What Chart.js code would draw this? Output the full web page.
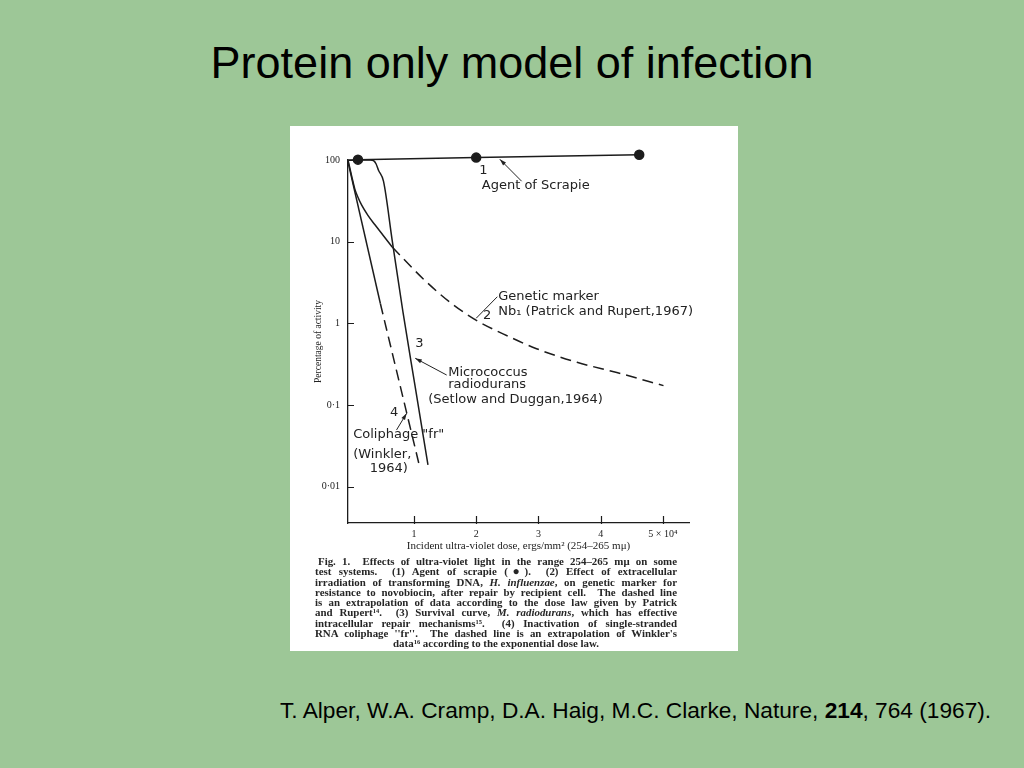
<!DOCTYPE html>
<html>
<head>
<meta charset="utf-8">
<title>Protein only model of infection</title>
<script src="https://cdn.jsdelivr.net/npm/chart.js@4.4.1/dist/chart.umd.min.js"></script>
<style>
  html, body { margin: 0; padding: 0; }
  body { width: 1024px; height: 768px; background: #9dc797; position: relative; overflow: hidden; }
  h1 { position: absolute; left: 0; top: 40px; width: 1024px; margin: 0; text-align: center;
       font: 400 45px/45px "Liberation Sans", Arial, sans-serif; color: #000; }
  #sheet { position: absolute; left: 290px; top: 126px; width: 448px; height: 525px; background: #fff; }
  #chart { position: absolute; left: 0; top: 0; }
  #caption { position: absolute; left: 25px; top: 430px; width: 362px;
             font: 700 10.9px/10.25px "Liberation Serif", "Times New Roman", serif; color: #262626; }
  #caption div { text-align: justify; text-align-last: justify; white-space: normal; }
  #caption div.last { text-align: center; text-align-last: center; }
  #caption sup { font-size: 6.5px; line-height: 0; vertical-align: 3px; }
  #caption .dot { font-size: 12px; line-height: 0; }
  .cite { position: absolute; left: 280px; top: 699px; margin: 0; white-space: nowrap;
          font: 22.7px/22.7px "Liberation Sans", Arial, sans-serif; color: #000; }
</style>
</head>
<body>
<h1>Protein only model of infection</h1>

<div id="sheet">
  <canvas id="chart" width="448" height="430"></canvas>
  <div id="caption">
    <div style="padding-left:3px">Fig. 1.&nbsp; Effects of ultra-violet light in the range 254–265 mμ on some</div>
    <div>test systems.&nbsp; (1) Agent of scrapie (<span class="dot">●</span>).&nbsp; (2) Effect of extracellular</div>
    <div>irradiation of transforming DNA, <i>H. influenzae</i>, on genetic marker for</div>
    <div>resistance to novobiocin, after repair by recipient cell.&nbsp; The dashed line</div>
    <div>is an extrapolation of data according to the dose law given by Patrick</div>
    <div>and Rupert<sup>14</sup>.&nbsp; (3) Survival curve, <i>M. radiodurans</i>, which has effective</div>
    <div>intracellular repair mechanisms<sup>15</sup>.&nbsp; (4) Inactivation of single-stranded</div>
    <div>RNA coliphage ''fr''.&nbsp; The dashed line is an extrapolation of Winkler's</div>
    <div class="last">data<sup>16</sup> according to the exponential dose law.</div>
  </div>
</div>

<p class="cite">T. Alper, W.A. Cramp, D.A. Haig, M.C. Clarke, Nature, <b>214</b>, 764 (1967).</p>

<script>
// Fig. 1 of Alper et al. (1967).
// x = UV dose in units of 10^4 ergs/mm^2, y = percentage of activity (log).

const X_TICKS = [1, 2, 3, 4, 5];
const X_TICK_LABELS = ['1', '2', '3', '4', '5 × 10⁴'];
const Y_TICKS = [100, 10, 1, 0.1, 0.01];
const Y_TICK_LABELS = ['100', '10', '1', '0·1', '0·01'];

// (1) agent of scrapie; first entry is where the line leaves the axis
const scrapieDose = [-0.06, 0.10, 2.00, 4.62];
const scrapiePct  = [100, 101, 107, 116];

// (2) genetic marker Nb1: measured part, then the dashed extrapolation
const markerDose    = [-0.06, 0.0, 0.05, 0.10, 0.16, 0.26, 0.37, 0.50, 0.65];
const markerPct     = [100, 63, 44, 35, 28, 21, 16.2, 12.1, 8.6];
const markerExtDose = [0.65, 1.15, 1.58, 2.01, 2.44, 2.97, 3.62, 4.26, 5.01];
const markerExtPct  = [8.6, 3.5, 1.81, 1.08, 0.74, 0.49, 0.334, 0.25, 0.173];

// (3) Micrococcus radiodurans
const microDose = [-0.06, 0.30, 0.35, 0.39, 0.43, 0.51, 0.65, 0.823, 1.02, 1.225];
const microPct  = [100, 100, 98, 90, 75, 55, 10.4, 1.38, 0.167, 0.0185];

// (4) coliphage "fr": measured part, then dashed extrapolation
const phageDose    = [-0.06, 0.46];
const phagePct     = [95, 1.75];
const phageExtDose = [0.46, 1.096];
const phageExtPct  = [1.75, 0.017];

// hand lettering on the figure, placed in data units
const NOTES = [
  { text: '1',                              x: 2.05,  y: 75 },
  { text: 'Agent of Scrapie',               x: 2.09,  y: 49 },
  { text: 'Genetic marker',                 x: 2.355, y: 2.12 },
  { text: '2',                              x: 2.11,  y: 1.24 },
  { text: 'Nb₁ (Patrick and Rupert,1967)',  x: 2.355, y: 1.40 },
  { text: '3',                              x: 1.02,  y: 0.56 },
  { text: 'Micrococcus',                    x: 1.55,  y: 0.25 },
  { text: 'radiodurans',                    x: 1.55,  y: 0.176 },
  { text: '(Setlow and Duggan,1964)',       x: 1.23,  y: 0.115 },
  { text: '4',                              x: 0.615, y: 0.08 },
  { text: 'Coliphage "fr"',                 x: 0.024, y: 0.043 },
  { text: '(Winkler,',                      x: 0.024, y: 0.025 },
  { text: '1964)',                          x: 0.29,  y: 0.0168 },
];
const POINTERS = [
  { from: [2.73, 55],     to: [2.38, 102],    head: true },
  { from: [2.00, 1.155],  to: [2.34, 2.12],   head: false },
  { from: [1.526, 0.233], to: [1.02, 0.374],  head: true },
  { from: [0.72, 0.0496], to: [0.883, 0.0794], head: true },
];

const INK = '#1c1c1c';
const SERIF = '"Liberation Serif", "Times New Roman", serif';
const HAND = '"DejaVu Sans", sans-serif';
const DASH = [11, 6];

const pts = (xs, ys) => xs.map((x, i) => ({ x, y: ys[i] }));

function curve(label, xs, ys, extra) {
  return Object.assign({
    label,
    data: pts(xs, ys),
    borderColor: INK,
    backgroundColor: INK,
    borderWidth: 1.5,
    pointRadius: 0,
    fill: false,
    cubicInterpolationMode: 'monotone',
  }, extra);
}

// tick marks on this figure point into the plot
const inwardTicks = {
  id: 'inwardTicks',
  afterDraw(chart) {
    const { ctx, chartArea: a, scales: { x, y } } = chart;
    ctx.save();
    ctx.strokeStyle = INK;
    ctx.lineWidth = 1.2;
    ctx.beginPath();
    for (const v of X_TICKS) {
      const px = Math.round(x.getPixelForValue(v)) + 0.5;
      ctx.moveTo(px, a.bottom + 1);
      ctx.lineTo(px, a.bottom - 7);
    }
    for (const v of Y_TICKS) {
      const py = Math.round(y.getPixelForValue(v)) + 0.5;
      ctx.moveTo(a.left, py);
      ctx.lineTo(a.left + 6, py);
    }
    ctx.stroke();
    ctx.restore();
  },
};

const lettering = {
  id: 'lettering',
  afterDraw(chart) {
    const { ctx, scales: { x, y } } = chart;
    ctx.save();
    ctx.fillStyle = '#222';
    ctx.strokeStyle = '#222';
    ctx.font = '13px ' + HAND;
    ctx.textAlign = 'left';
    ctx.textBaseline = 'middle';
    for (const n of NOTES) {
      ctx.fillText(n.text, x.getPixelForValue(n.x), y.getPixelForValue(n.y));
    }
    ctx.lineWidth = 1;
    for (const p of POINTERS) {
      const x0 = x.getPixelForValue(p.from[0]), y0 = y.getPixelForValue(p.from[1]);
      const x1 = x.getPixelForValue(p.to[0]),   y1 = y.getPixelForValue(p.to[1]);
      ctx.beginPath();
      ctx.moveTo(x0, y0);
      ctx.lineTo(x1, y1);
      ctx.stroke();
      if (p.head) {
        const ang = Math.atan2(y1 - y0, x1 - x0);
        ctx.beginPath();
        ctx.moveTo(x1, y1);
        ctx.lineTo(x1 - 7 * Math.cos(ang - 0.3), y1 - 7 * Math.sin(ang - 0.3));
        ctx.lineTo(x1 - 7 * Math.cos(ang + 0.3), y1 - 7 * Math.sin(ang + 0.3));
        ctx.closePath();
        ctx.fill();
      }
    }
    ctx.restore();
  },
};

new Chart(document.getElementById('chart'), {
  type: 'line',
  data: {
    datasets: [
      curve('Agent of scrapie', scrapieDose, scrapiePct, {
        cubicInterpolationMode: 'default', tension: 0,
        pointRadius: [0, 4.5, 4.5, 4.5], clip: false,
      }),
      curve('Genetic marker Nb1', markerDose, markerPct),
      curve('Genetic marker Nb1 (extrapolated)', markerExtDose, markerExtPct, { borderDash: DASH }),
      curve('M. radiodurans', microDose, microPct),
      curve('Coliphage fr', phageDose, phagePct, { cubicInterpolationMode: 'default', tension: 0 }),
      curve('Coliphage fr (extrapolated)', phageExtDose, phageExtPct,
        { cubicInterpolationMode: 'default', tension: 0, borderDash: DASH }),
    ],
  },
  options: {
    responsive: false,
    animation: false,
    layout: { padding: { left: 20, right: 49, top: 34, bottom: 3 } },
    plugins: {
      legend: { display: false },
      tooltip: { enabled: false },
    },
    scales: {
      x: {
        type: 'linear',
        min: -0.06,
        max: 5.42,
        afterBuildTicks: s => { s.ticks = X_TICKS.map(v => ({ value: v })); },
        afterFit: s => { s.height = 30; },
        grid: { display: true, drawOnChartArea: false, drawTicks: false },
        border: { display: true, color: INK, width: 1.3 },
        ticks: {
          padding: 5, color: '#222', maxRotation: 0, autoSkip: false,
          font: { family: SERIF, size: 10 },
          callback: (v, i) => X_TICK_LABELS[i],
        },
        title: {
          display: true,
          text: 'Incident ultra-violet dose, ergs/mm² (254–265 mμ)',
          color: '#222',
          font: { family: SERIF, size: 11 },
          padding: { top: 0, bottom: 0 },
        },
      },
      y: {
        type: 'logarithmic',
        min: 0.0036,
        max: 100,
        afterBuildTicks: s => { s.ticks = Y_TICKS.map(v => ({ value: v })); },
        afterFit: s => { s.width = 38; },
        grid: { display: true, drawOnChartArea: false, drawTicks: false },
        border: { display: true, color: INK, width: 1.3 },
        ticks: {
          padding: 8, color: '#222', autoSkip: false,
          font: { family: SERIF, size: 10 },
          callback: (v, i) => Y_TICK_LABELS[i],
        },
        title: {
          display: true,
          text: 'Percentage of activity',
          color: '#222',
          font: { family: SERIF, size: 9.5 },
          padding: { top: 3, bottom: 0 },
        },
      },
    },
  },
  plugins: [inwardTicks, lettering],
});
</script>
</body>
</html>
